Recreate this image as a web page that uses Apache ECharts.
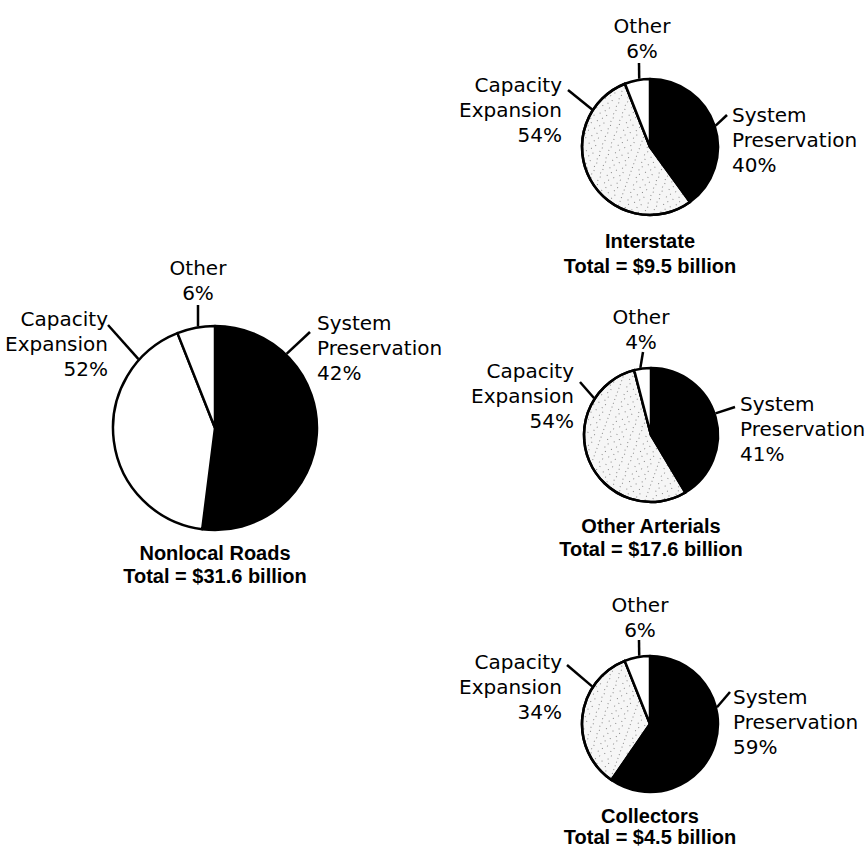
<!DOCTYPE html>
<html>
<head>
<meta charset="utf-8">
<script src="https://cdn.jsdelivr.net/npm/echarts@6/dist/echarts.min.js"></script>
<style>
html, body { margin: 0; background: #fff; }
#chart { width: 867px; height: 848px; }
</style>
</head>
<body>
<div id="chart"></div>
<script>
var categories = ['System Preservation', 'Capacity Expansion', 'Other'];
var labelNames = ['System\nPreservation', 'Capacity\nExpansion', 'Other'];
var pieNames = ['Nonlocal Roads', 'Interstate', 'Other Arterials', 'Collectors'];
var totals = [31.6, 9.5, 17.6, 4.5];

// percentages as printed next to each pie
var nonlocalPct = [42, 52, 6];
var interstatePct = [40, 54, 6];
var arterialPct = [41, 54, 4];
var collectorPct = [59, 34, 6];
// the nonlocal pie is drawn with the first two shares swapped (black ~52%)
var nonlocalDrawn = [52, 42, 6];

var printed = [nonlocalPct, interstatePct, arterialPct, collectorPct];
var drawn = [nonlocalDrawn, interstatePct, arterialPct, collectorPct];

var stipple = {
    color: '#f6f6f6',
    decal: {
        symbol: 'rect',
        symbolSize: 1,
        dashArrayX: [[1, 6], [0, 3, 1, 5]],
        dashArrayY: [1, 3],
        rotation: 0.35,
        color: 'rgba(0,0,0,0.45)'
    }
};
var black = {color: '#000'};
var white = {color: '#fff'};

// where each pie sits and where its hand placed labels go (offsets from centre)
var pieLayout = [{
    center: [215, 428], r: 102, titleTop: 541, titleLine: 23,
    fills: [black, white, white],
    labels: [
        {a: 44, end: [95, -96], text: [102, -118], align: 'left', va: 'top'},
        {a: -48, end: [-107, -103], text: [-107, -122], align: 'right', va: 'top'},
        {a: -9.5, end: [-17, -123], text: [-17, -123], align: 'center', va: 'bottom'}
    ]
}, {
    center: [650, 147], r: 68, titleTop: 228, titleLine: 25,
    fills: [black, stipple, white],
    labels: [
        {a: 72, end: [77, -32], text: [82, -45], align: 'left', va: 'top'},
        {a: -57, end: [-82, -57], text: [-88, -75], align: 'right', va: 'top'},
        {a: -9, end: [-11, -84], text: [-8, -84], align: 'center', va: 'bottom'}
    ]
}, {
    center: [651, 435], r: 67, titleTop: 514, titleLine: 23,
    fills: [black, stipple, white],
    labels: [
        {a: 71.5, end: [84, -28], text: [89, -44], align: 'left', va: 'top'},
        {a: -57, end: [-71, -53], text: [-77, -77], align: 'right', va: 'top'},
        {a: -9, end: [-8, -83], text: [-10, -81], align: 'center', va: 'bottom'}
    ]
}, {
    center: [650, 724], r: 68, titleTop: 805, titleLine: 21,
    fills: [black, stipple, white],
    labels: [
        {a: 76, end: [80, -32], text: [83, -40], align: 'left', va: 'top'},
        {a: -57, end: [-83, -59], text: [-88, -75], align: 'right', va: 'top'},
        {a: -9, end: [-11, -84], text: [-10, -82], align: 'center', va: 'bottom'}
    ]
}];

var chart = echarts.init(document.getElementById('chart'), null, {renderer: 'svg'});

var titles = pieLayout.map(function (p, i) {
    return {
        text: pieNames[i] + '\nTotal = $' + totals[i].toFixed(1) + ' billion',
        left: p.center[0],
        top: p.titleTop,
        textAlign: 'center',
        padding: 0,
        textStyle: {
            fontFamily: 'Liberation Sans',
            fontWeight: 'bold',
            fontSize: 20,
            lineHeight: p.titleLine,
            color: '#000'
        }
    };
});

function placeLabel(params) {
    var p = pieLayout[params.seriesIndex];
    var l = p.labels[params.dataIndex];
    var cx = p.center[0], cy = p.center[1];
    var rad = l.a * Math.PI / 180;
    var edge = [cx + (p.r + 1) * Math.sin(rad), cy - (p.r + 1) * Math.cos(rad)];
    var end = [cx + l.end[0], cy + l.end[1]];
    return {
        x: cx + l.text[0],
        y: cy + l.text[1],
        align: l.align,
        verticalAlign: l.va,
        labelLinePoints: [edge, end, end]
    };
}

var series = pieLayout.map(function (p, i) {
    return {
        type: 'pie',
        center: p.center,
        radius: p.r,
        startAngle: 90,
        clockwise: true,
        avoidLabelOverlap: false,
        silent: true,
        data: categories.map(function (c, j) {
            return {name: c, value: drawn[i][j], itemStyle: p.fills[j]};
        }),
        itemStyle: {borderColor: '#000', borderWidth: 2.5},
        label: {
            show: true,
            position: 'outside',
            color: '#000',
            fontFamily: 'DejaVu Sans',
            fontSize: 20,
            lineHeight: 25,
            formatter: function (params) {
                return labelNames[params.dataIndex] + '\n' + printed[i][params.dataIndex] + '%';
            }
        },
        labelLine: {
            show: true,
            length: 10,
            length2: 0,
            lineStyle: {color: '#000', width: 2.5}
        },
        labelLayout: placeLabel,
        emphasis: {disabled: true}
    };
});

chart.setOption({
    backgroundColor: '#fff',
    animation: false,
    title: titles,
    series: series
});
</script>
</body>
</html>
